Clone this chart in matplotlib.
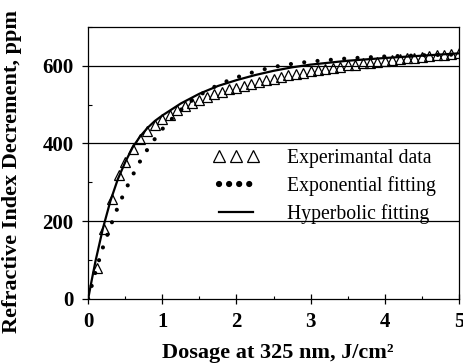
import matplotlib
matplotlib.use("Agg")
import matplotlib.pyplot as plt
from matplotlib.lines import Line2D
from matplotlib.ticker import MultipleLocator

plt.rcParams['font.family'] = ['Liberation Serif', 'DejaVu Serif']

exp_x = [0.12, 0.22, 0.32, 0.41, 0.50, 0.60, 0.70, 0.80, 0.90, 1.00,
         1.10, 1.20, 1.30, 1.40, 1.50, 1.60, 1.70, 1.80, 1.90, 2.00,
         2.10, 2.20, 2.30, 2.40, 2.50, 2.60, 2.70, 2.80, 2.90, 3.00,
         3.10, 3.20, 3.30, 3.40, 3.50, 3.60, 3.70, 3.80, 3.90, 4.00,
         4.10, 4.20, 4.30, 4.40, 4.50, 4.60, 4.70, 4.80, 4.90, 5.00]
exp_y = [80, 180, 258, 318, 352, 385, 412, 432, 448, 462,
         474, 486, 496, 505, 512, 520, 527, 533, 539, 544,
         549, 554, 559, 563, 567, 571, 575, 579, 582, 586,
         589, 592, 595, 598, 601, 603, 606, 608, 610, 613,
         615, 617, 619, 621, 623, 625, 627, 629, 630, 632]

# Exponential fitting curve
expo_x = [0, 0.1, 0.2, 0.3, 0.4, 0.5, 0.6, 0.7, 0.8, 0.9, 1.0, 1.2, 1.4,
          1.6, 1.8, 2.0, 2.25, 2.5, 2.75, 3.0, 3.5, 4.0, 4.5, 5.0]
expo_y = [0, 70, 133, 187, 236, 279, 318, 354, 385, 412, 437, 478, 511,
          536, 555, 570, 585, 597, 605, 611, 619, 624, 627, 629]

# Hyperbolic fitting curve
hyp_x = [0, 0.05, 0.1, 0.2, 0.3, 0.4, 0.5, 0.6, 0.7, 0.8, 0.9, 1.0, 1.25,
         1.5, 1.75, 2.0, 2.25, 2.5, 2.75, 3.0, 3.5, 4.0, 4.5, 5.0]
hyp_y = [0, 50, 98, 182, 252, 308, 352, 390, 418, 440, 458, 472, 503,
         528, 548, 563, 576, 587, 596, 603, 613, 620, 626, 632]

fig = plt.figure(figsize=(4.64, 3.64), dpi=100)
ax = fig.add_axes([0.19, 0.179, 0.799, 0.747])

ax.plot(hyp_x, hyp_y, color='black', lw=1.6, zorder=3)
ax.plot(expo_x, expo_y, color='black', lw=3.0, linestyle=(0, (0.01, 3.2)),
        dash_capstyle='round', zorder=4)
ax.plot(exp_x, exp_y, linestyle='none', marker='^', ms=7, mfc='none',
        mec='black', mew=0.9, zorder=5)

ax.set_xlim(0, 5)
ax.set_ylim(0, 700)
ax.set_yticks([0, 200, 400, 600])
ax.yaxis.set_minor_locator(MultipleLocator(100))
ax.xaxis.set_major_locator(MultipleLocator(1))
ax.xaxis.set_minor_locator(MultipleLocator(0.5))
for y in [200, 400, 600]:
    ax.axhline(y, color='black', lw=0.9, zorder=1)

ax.tick_params(axis='y', which='major', direction='out', length=4.5, width=0.9,
               pad=6, labelsize=15)
ax.tick_params(axis='y', which='minor', direction='in', length=3, width=0.8)
ax.tick_params(axis='x', which='major', direction='inout', length=7, width=0.9,
               pad=6, labelsize=15)
ax.tick_params(axis='x', which='minor', direction='in', length=2.5, width=0.8)
for lab in ax.get_xticklabels() + ax.get_yticklabels():
    lab.set_fontweight('bold')
for s in ax.spines.values():
    s.set_linewidth(0.9)

ax.set_xlabel('Dosage at 325 nm, J/cm²', fontsize=16, fontweight='bold')
ax.set_ylabel('Refractive Index Decrement, ppm', fontsize=16, fontweight='bold')
ax.xaxis.set_label_coords(0.512, -0.162)
ax.yaxis.set_label_coords(-0.178, 0.47)

handles = [
    Line2D([], [], linestyle='none', marker='^', ms=8.5, mfc='none', mec='black', mew=0.9),
    Line2D([], [], color='black', lw=4.5, linestyle=(0, (0.01, 1.6)), dash_capstyle='round'),
    Line2D([], [], color='black', lw=1.6),
]
labels = ['Experimantal data', 'Exponential fitting', 'Hyperbolic fitting']
leg = ax.legend(handles, labels, loc='upper left', bbox_to_anchor=(0.337, 0.551),
                frameon=False, fontsize=14.2, numpoints=3, handlelength=2.33,
                handletextpad=1.42, labelspacing=0.40, borderaxespad=0,
                borderpad=0)

fig.savefig('out.png', dpi=100)
